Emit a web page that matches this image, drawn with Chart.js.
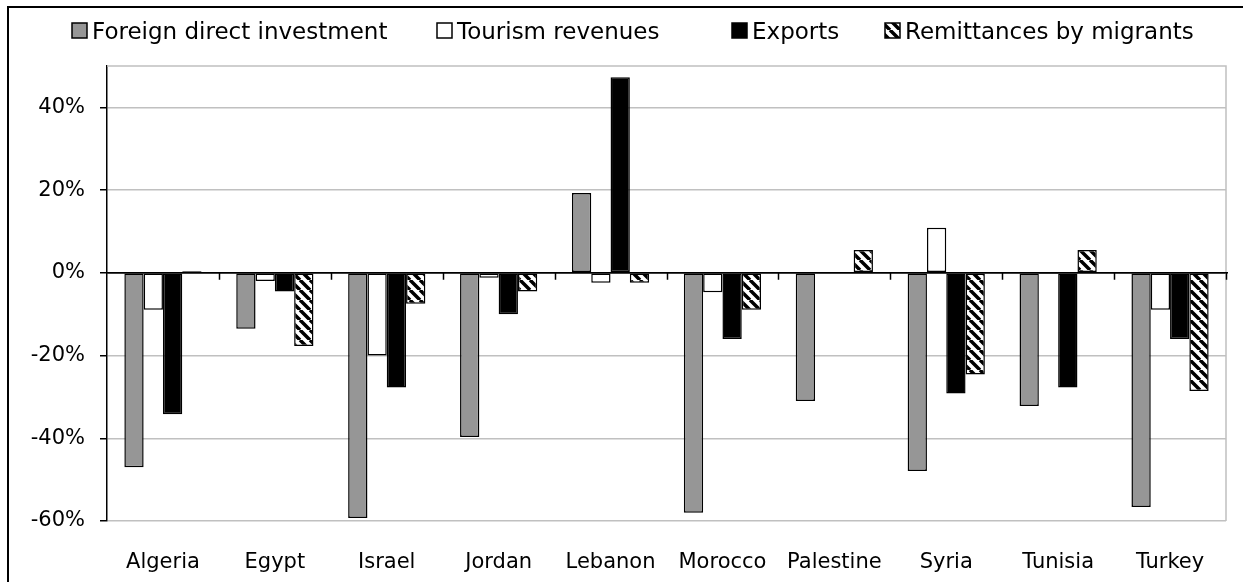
<!DOCTYPE html>
<html>
<head>
<meta charset="utf-8">
<script src="https://cdn.jsdelivr.net/npm/chart.js@4.4.0/dist/chart.umd.min.js"></script>
<style>
  html, body { margin: 0; padding: 0; background: #fff; overflow: hidden; }
  #frame {
    position: absolute; left: 7px; top: 6px; width: 1234px; height: 600px;
    border-left: 2px solid #000; border-top: 2px solid #000;
  }
  #wrap { position: absolute; left: 0; top: 0; width: 1245px; height: 582px; }
</style>
</head>
<body>
<div id="frame"></div>
<div id="wrap"><canvas id="chart" width="1245" height="582"></canvas></div>
<script>
// chart data (percent change)
const countries = ['Algeria', 'Egypt', 'Israel', 'Jordan', 'Lebanon', 'Morocco', 'Palestine', 'Syria', 'Tunisia', 'Turkey'];
const seriesNames = ['Foreign direct investment', 'Tourism revenues', 'Exports', 'Remittances by migrants'];
const fdi         = [-47.0, -13.5, -59.3, -39.7, 19.3, -58.0, -31.0, -47.9, -32.2, -56.6];
const tourism     = [-8.9, -2.0, -20.0, -1.2, -2.4, -4.7, 0, 10.9, -0.3, -8.9];
const exportsData = [-34.2, -4.5, -27.7, -10.0, 47.3, -16.0, 0, -29.2, -27.7, -16.0];
const remittances = [0.4, -17.7, -7.5, -4.5, -2.4, -8.9, 5.5, -24.6, 5.5, -28.6];
const yTicks = [-60, -40, -20, 0, 20, 40];

// diagonal hatch for remittances
function makeHatch() {
  const c = document.createElement('canvas');
  c.width = 10; c.height = 10;
  const g = c.getContext('2d');
  g.fillStyle = '#fff';
  g.fillRect(0, 0, 10, 10);
  g.strokeStyle = '#000';
  g.lineWidth = 3.5;
  g.beginPath();
  [-10, 0, 10].forEach(k => {
    g.moveTo(k, 0);
    g.lineTo(k + 10, 10);
  });
  g.stroke();
  return g.createPattern(c, 'repeat');
}
const hatch = makeHatch();

// legend drawn by hand so box/text spacing matches the original
const legendX = [72, 437, 732, 885];
const keyLegend = {
  id: 'keyLegend',
  afterDraw(chart) {
    const ctx = chart.ctx;
    ctx.save();
    ctx.font = '23px "DejaVu Sans"';
    ctx.textBaseline = 'alphabetic';
    ctx.textAlign = 'left';
    chart.data.datasets.forEach((ds, i) => {
      const x = legendX[i];
      ctx.fillStyle = ds.backgroundColor;
      ctx.fillRect(x, 23, 15, 15);
      ctx.strokeStyle = '#000';
      ctx.lineWidth = 1.5;
      ctx.strokeRect(x, 23, 15, 15);
      ctx.fillStyle = '#000';
      ctx.fillText(ds.label, x + 20, 39);
    });
    ctx.restore();
  }
};

// gray plot border + small category ticks on the zero line
const plotFrame = {
  id: 'plotFrame',
  beforeDatasetsDraw(chart) {
    const { ctx, chartArea: a } = chart;
    ctx.save();
    ctx.strokeStyle = '#c0c0c0';
    ctx.lineWidth = 1.5;
    ctx.beginPath();
    ctx.moveTo(a.left, a.top);
    ctx.lineTo(a.right, a.top);
    ctx.lineTo(a.right, a.bottom);
    ctx.stroke();
    ctx.restore();
  },
  afterDatasetsDraw(chart) {
    const { ctx, chartArea: a, scales } = chart;
    const y0 = scales.y.getPixelForValue(0);
    const step = (a.right - a.left) / countries.length;
    ctx.save();
    ctx.strokeStyle = '#000';
    ctx.lineWidth = 1.5;
    ctx.beginPath();
    ctx.moveTo(a.left, y0);
    ctx.lineTo(a.right + 2, y0);
    for (let i = 1; i <= countries.length; i++) {
      const x = Math.round(a.left + step * i) + 0.5;
      ctx.moveTo(x, y0);
      ctx.lineTo(x, y0 + 7);
    }
    ctx.stroke();
    ctx.restore();
  }
};

const font = { family: 'DejaVu Sans', size: 21 };

new Chart(document.getElementById('chart'), {
  type: 'bar',
  data: {
    labels: countries,
    datasets: [
      { label: seriesNames[0], data: fdi, backgroundColor: '#969696' },
      { label: seriesNames[1], data: tourism, backgroundColor: '#ffffff' },
      { label: seriesNames[2], data: exportsData, backgroundColor: '#000000' },
      { label: seriesNames[3], data: remittances, backgroundColor: hatch }
    ]
  },
  options: {
    responsive: false,
    animation: false,
    layout: { padding: { left: 0, right: 19, top: 66, bottom: 0 } },
    datasets: {
      bar: {
        borderColor: '#000',
        borderWidth: 1.5,
        borderSkipped: false,
        categoryPercentage: 0.69,
        barPercentage: 1
      }
    },
    plugins: {
      legend: { display: false },
      tooltip: { enabled: false }
    },
    scales: {
      x: {
        grid: { display: false },
        border: { display: false },
        ticks: { color: '#000', font: font, padding: 21, maxRotation: 0 },
        afterFit(axis) { axis.height = 61; }
      },
      y: {
        min: -60,
        max: 50,
        afterBuildTicks(axis) { axis.ticks = yTicks.map(v => ({ value: v })); },
        afterFit(axis) { axis.width = 107; },
        grid: {
          color: c => (c.tick && c.tick.value === 0 ? '#000' : '#c0c0c0'),
          lineWidth: 1.5,
          tickColor: '#000',
          tickLength: 7
        },
        border: { display: true, color: '#000', width: 1.5 },
        ticks: {
          color: '#000',
          font: font,
          padding: 15,
          callback: v => v + '%'
        }
      }
    }
  },
  plugins: [plotFrame, keyLegend]
});
</script>
</body>
</html>
